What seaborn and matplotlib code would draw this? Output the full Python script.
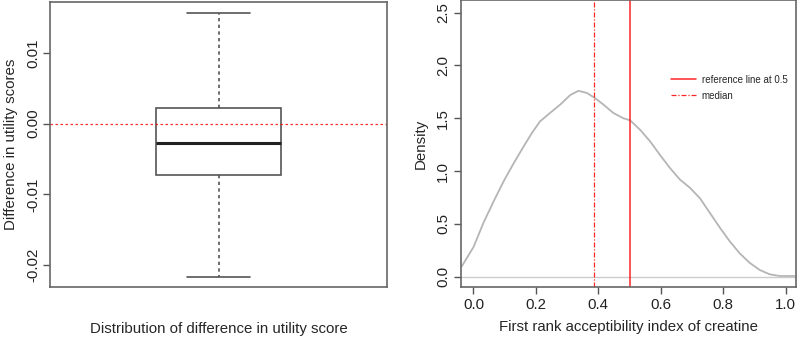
import numpy as np
import pandas as pd
import matplotlib
matplotlib.use('Agg')
import matplotlib.pyplot as plt
import seaborn as sns

sns.set_style('white')
plt.rcParams['font.family'] = ['Liberation Sans', 'DejaVu Sans']
plt.rcParams['axes.edgecolor'] = '#666666'
plt.rcParams['axes.linewidth'] = 1.2
plt.rcParams['xtick.color'] = '#555555'
plt.rcParams['ytick.color'] = '#555555'
plt.rcParams['xtick.labelcolor'] = '#222222'
plt.rcParams['ytick.labelcolor'] = '#222222'

FS = 10.8

# five-number summary of utility difference (min, q1, median, q3, max)
util_diff = [-0.0217, -0.0073, -0.0027, 0.00226, 0.0157]
util_ticks = [-0.02, -0.01, 0.00, 0.01]

# density of first rank acceptability index
fra_x = [-0.037, 0.0, 0.032, 0.064, 0.096, 0.128, 0.160, 0.187, 0.213, 0.245,
         0.278, 0.310, 0.336, 0.363, 0.390, 0.416, 0.448, 0.480, 0.502, 0.534,
         0.566, 0.598, 0.629, 0.661, 0.694, 0.726, 0.758, 0.790, 0.822, 0.853,
         0.885, 0.917, 0.949, 0.981, 1.029]
fra_density = [0.10, 0.28, 0.51, 0.71, 0.90, 1.07, 1.23, 1.36, 1.47, 1.55,
               1.63, 1.72, 1.76, 1.74, 1.69, 1.63, 1.55, 1.50, 1.48, 1.39,
               1.28, 1.15, 1.03, 0.92, 0.84, 0.74, 0.60, 0.46, 0.33, 0.22,
               0.13, 0.063, 0.022, 0.006, 0.006]
fra_median = 0.387
fra_ref = 0.5

fig = plt.figure(figsize=(8, 3.38), dpi=100)
ax1 = fig.add_axes([50 / 800, 51 / 338, 337 / 800, 285 / 338])
ax2 = fig.add_axes([461 / 800, 51 / 338, 335 / 800, 287 / 338])

# left: boxplot
box_df = pd.DataFrame({'diff': util_diff, 'grp': 'a'})
sns.boxplot(data=box_df, x='grp', y='diff', whis=(0, 100), width=0.37,
            color='white', linecolor='#555555', linewidth=1.2,
            medianprops=dict(color='#222222', linewidth=2.2),
            whiskerprops=dict(linestyle=(0, (2, 2)), color='#555555'),
            capprops=dict(color='#555555'), ax=ax1)
ax1.axhline(0, color='red', linestyle=(0, (2, 2)), linewidth=0.9, alpha=0.8)
ax1.set_xlim(-0.5, 0.5)
ax1.set_ylim(-0.0231, 0.0172)
ax1.set_yticks(util_ticks)
ax1.set_yticklabels(['{:.2f}'.format(v) for v in util_ticks], rotation=90, va='center', fontsize=FS)
ax1.set_xticks([])
ax1.set_xlabel('Distribution of difference in utility score', fontsize=FS, labelpad=25)
ax1.set_ylabel('Difference in utility scores', fontsize=FS, labelpad=6)
ax1.tick_params(axis='y', left=True, length=5, width=1, direction='out', pad=2)

# right: density
sns.lineplot(x=fra_x, y=fra_density, color='#b5b5b5', linewidth=1.3, sort=False, ax=ax2)
ax2.lines[0].set_solid_joinstyle('round')
ax2.axhline(0, color='#cccccc', linewidth=1.0)
ax2.axvline(fra_ref, color='red', linewidth=1.1, label='reference line at 0.5', alpha=0.85)
ax2.axvline(fra_median, color='red', linestyle=(0, (4, 1.5, 1, 1.5)), linewidth=0.9,
            label='median', alpha=0.85)
ax2.set_xlim(-0.04, 1.033)
ax2.set_ylim(-0.098, 2.62)
xt = [0.0, 0.2, 0.4, 0.6, 0.8, 1.0]
yt = [0.0, 0.5, 1.0, 1.5, 2.0, 2.5]
ax2.set_xticks(xt)
ax2.set_xticklabels(['{:.1f}'.format(v) for v in xt], fontsize=FS)
ax2.set_yticks(yt)
ax2.set_yticklabels(['{:.1f}'.format(v) for v in yt], rotation=90, va='center', fontsize=FS)
ax2.tick_params(axis='both', bottom=True, left=True, length=5, width=1, direction='out', pad=3)
ax2.set_xlabel('First rank acceptibility index of creatine', fontsize=FS, labelpad=6)
ax2.set_ylabel('Density', fontsize=FS, labelpad=6)
ax2.legend(loc='upper left', bbox_to_anchor=(0.6, 0.77), frameon=False, fontsize=7,
           handlelength=2.6, handletextpad=0.6, labelspacing=0.6)

plt.savefig('out.png', dpi=100)
